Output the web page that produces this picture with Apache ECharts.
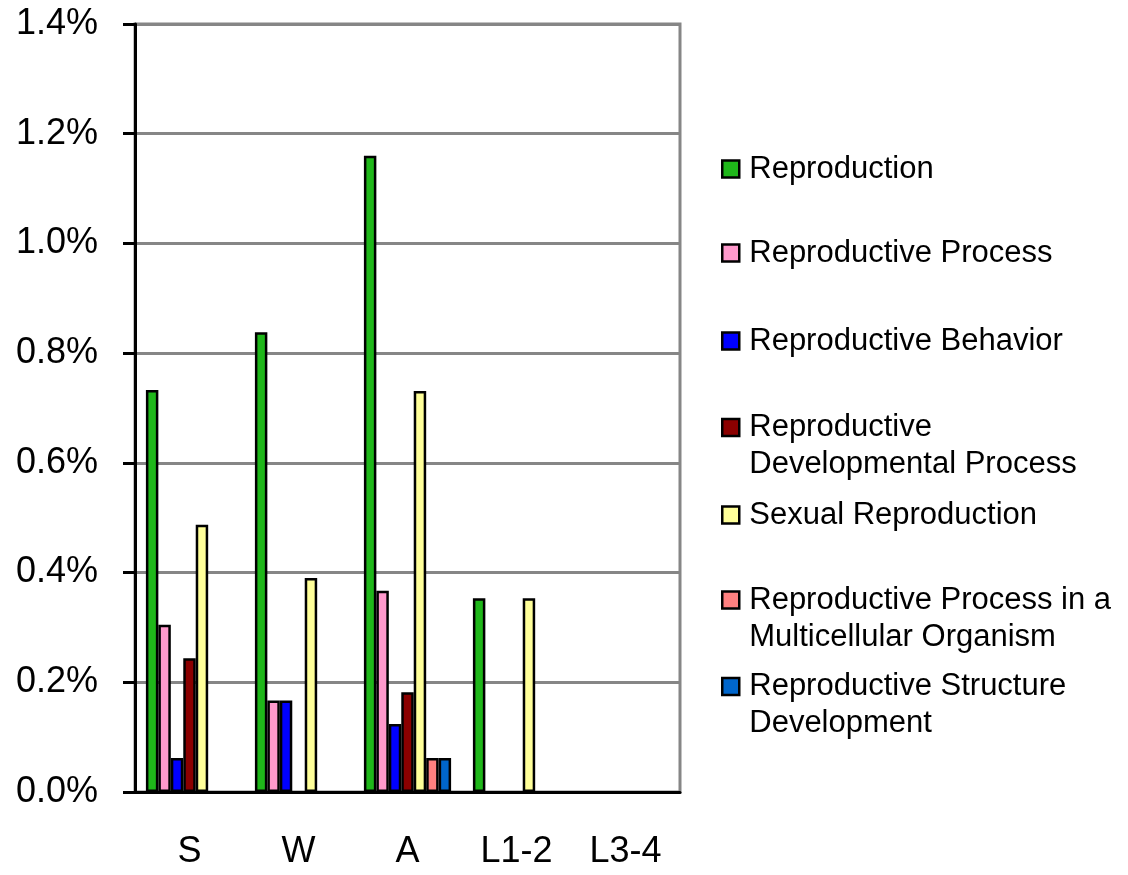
<!DOCTYPE html>
<html>
<head>
<meta charset="utf-8">
<script src="https://cdn.jsdelivr.net/npm/echarts@6/dist/echarts.min.js"></script>
<style>
  html, body { margin: 0; padding: 0; background: #fff; }
  #chart { width: 1128px; height: 875px; }
</style>
</head>
<body>
<div id="chart"></div>
<script>
// Share of annotated genes per stage (%)
const categories = ['S', 'W', 'A', 'L1-2', 'L3-4'];
const reproduction = [0.733, 0.838, 1.160, 0.353, null];
const reproductiveProcess = [0.305, 0.167, 0.367, null, null];
const reproductiveBehavior = [0.062, 0.167, 0.124, null, null];
const reproductiveDevelopmentalProcess = [0.244, null, 0.182, null, null];
const sexualReproduction = [0.487, 0.390, 0.731, 0.353, null];
const multicellularReproductiveProcess = [null, null, 0.062, null, null];
const reproductiveStructureDevelopment = [null, null, 0.062, null, null];
const yTicks = { min: 0, max: 1.4, step: 0.2 };

const FONT = "'Liberation Sans', Arial, sans-serif";

const seriesDefs = [
  { name: 'Reproduction', data: reproduction, color: '#1fb71a', center: 169 },
  { name: 'Reproductive Process', data: reproductiveProcess, color: '#ff99cc', center: 253 },
  { name: 'Reproductive Behavior', data: reproductiveBehavior, color: '#0000ff', center: 341 },
  { name: 'Reproductive\nDevelopmental Process', data: reproductiveDevelopmentalProcess, color: '#8b0000', center: 427.5 },
  { name: 'Sexual Reproduction', data: sexualReproduction, color: '#ffff99', center: 515 },
  { name: 'Reproductive Process in a\nMulticellular Organism', data: multicellularReproductiveProcess, color: '#ff8080', center: 600 },
  { name: 'Reproductive Structure\nDevelopment', data: reproductiveStructureDevelopment, color: '#0066cc', center: 686.5 }
];

const LINE_H = 37;

// One legend per entry so each can sit at its own height.
// Two-line names get a blank leading line so the swatch lines up with the first line.
const legends = seriesDefs.map(d => {
  const twoLines = d.name.indexOf('\n') >= 0;
  return {
    data: [d.name],
    orient: 'vertical',
    left: 721,
    top: twoLines ? d.center - LINE_H * 1.5 : d.center - LINE_H / 2,
    padding: 0,
    icon: 'rect',
    itemWidth: 17,
    itemHeight: 17,
    itemStyle: { borderColor: '#000', borderWidth: 2.5 },
    selectedMode: false,
    formatter: name => (twoLines ? '\n' + name : name),
    textStyle: {
      fontFamily: FONT,
      fontSize: 31,
      color: '#000',
      lineHeight: LINE_H,
      padding: [0, 0, 0, 5]
    }
  };
});

const chart = echarts.init(document.getElementById('chart'), null, { renderer: 'canvas' });

chart.setOption({
  animation: false,
  backgroundColor: '#fff',
  grid: {
    left: 135, right: 448, top: 24, bottom: 83,
    show: true, borderColor: '#868686', borderWidth: 3, backgroundColor: 'transparent'
  },
  legend: legends,
  xAxis: {
    type: 'category',
    data: categories,
    axisLine: { show: true, lineStyle: { color: '#000', width: 3 } },
    axisTick: { show: false },
    axisLabel: {
      fontFamily: FONT, fontSize: 36, color: '#000', margin: 42, lineHeight: 36
    },
    splitLine: { show: false }
  },
  yAxis: {
    type: 'value',
    min: yTicks.min,
    max: yTicks.max,
    interval: yTicks.step,
    axisLine: { show: true, lineStyle: { color: '#000', width: 3 } },
    axisTick: { show: true, inside: false, length: 12, lineStyle: { color: '#000', width: 3 } },
    axisLabel: {
      fontFamily: FONT, fontSize: 36, color: '#000', margin: 37,
      formatter: v => v.toFixed(1) + '%'
    },
    splitLine: { show: true, lineStyle: { color: '#868686', width: 3 } }
  },
  series: seriesDefs.map(d => ({
    name: d.name,
    type: 'bar',
    data: d.data,
    barGap: '0%',
    barCategoryGap: '20%',
    itemStyle: { color: d.color, borderColor: '#000', borderWidth: 2.5 },
    emphasis: { disabled: true }
  }))
});
</script>
</body>
</html>
